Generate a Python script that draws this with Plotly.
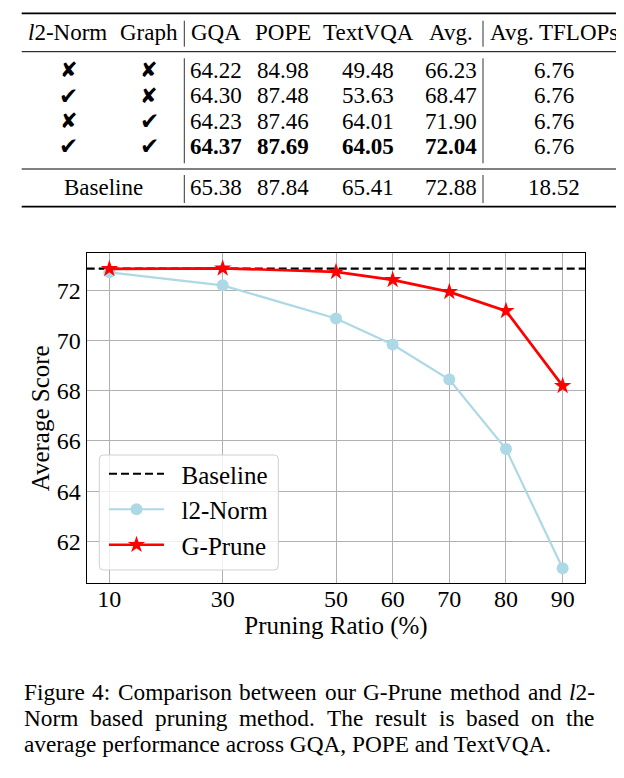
import plotly.graph_objects as go

# page is 624x778 but the browser body has an 8px margin, so the figure is
# drawn 8px smaller and everything is laid out in page pixels
PAGE_W, PAGE_H = 624, 778
OFF = 8
FW, FH = PAGE_W - OFF, PAGE_H - OFF
SERIF = "Liberation Serif"
SYMB = "DejaVu Sans"

# ---- table data ----
header = ["<i>l</i>2-Norm", "Graph", "GQA", "POPE", "TextVQA", "Avg.", "Avg. TFLOPs"]
use_l2 = [False, True, False, True]
use_graph = [False, False, True, True]
gqa = [64.22, 64.30, 64.23, 64.37]
pope = [84.98, 87.48, 87.46, 87.69]
textvqa = [49.48, 53.63, 64.01, 64.05]
avg = [66.23, 68.47, 71.90, 72.04]
tflops = [6.76, 6.76, 6.76, 6.76]
best_row = 3
baseline_vals = [65.38, 87.84, 65.41, 72.88, 18.52]

# ---- chart data ----
ratio = [10, 30, 50, 60, 70, 80, 90]
l2_norm = [72.73, 72.21, 70.89, 69.85, 68.45, 65.68, 60.92]
g_prune = [72.87, 72.89, 72.75, 72.43, 71.95, 71.19, 68.20]
baseline_score = 72.88

caption_l1 = ["Figure", "4:", "Comparison", "between", "our", "G-Prune", "method", "and", "<i>l</i>2-"]
caption_l2 = ["Norm", "based", "pruning", "method.", "The", "result", "is", "based", "on", "the"]
caption_l3 = "average performance across GQA, POPE and TextVQA."

# Times advance widths (em), used to justify the caption lines
TIMES = {' ': .25, '.': .25, ':': .278, '-': .333, ',': .25, '2': .5, '4': .5,
         'A': .722, 'C': .667, 'E': .611, 'F': .556, 'G': .722, 'N': .722, 'O': .722,
         'P': .556, 'Q': .722, 'T': .611, 'V': .722, 'a': .444, 'b': .5, 'c': .444,
         'd': .5, 'e': .444, 'f': .333, 'g': .5, 'h': .5, 'i': .278, 'l': .278,
         'm': .778, 'n': .5, 'o': .5, 'p': .5, 'r': .333, 's': .389, 't': .278,
         'u': .5, 'w': .722, 'v': .5, 'x': .5}


def px(x):
    return (x - OFF) / FW


def py(y):
    return 1 - (y - OFF) / FH


def pad_range(vals, frac=0.05):
    lo, hi = min(vals), max(vals)
    d = (hi - lo) * frac
    return [lo - d, hi + d]


def word_width(w, size):
    plain = w.replace("<i>", "").replace("</i>", "")
    return sum(TIMES.get(ch, .5) for ch in plain) * size


annotations = []
shapes = []


def text(x, y, s, size=23, anchor="center", family=SERIF):
    annotations.append(dict(
        x=px(x), y=py(y), xref="paper", yref="paper", text=s, showarrow=False,
        xanchor=anchor, yanchor="middle", font=dict(family=family, size=size, color="black")))


def hline(y, x0, x1, w):
    shapes.append(dict(type="line", xref="paper", yref="paper", x0=px(x0), x1=px(x1),
                       y0=py(y), y1=py(y), line=dict(color="black", width=w)))


def vline(x, y0, y1, w=1):
    shapes.append(dict(type="line", xref="paper", yref="paper", x0=px(x), x1=px(x),
                       y0=py(y0), y1=py(y1), line=dict(color="#333333", width=w)))


# table layout
col_x = [67.5, 149, 216.3, 282.5, 368, 450.7, 554.3]
row_y = [70.2, 95.7, 121.2, 146.5]
header_y = 32.2
base_y = 187.2

for s, x in zip(header, col_x):
    text(x, header_y, s)

cols = [gqa, pope, textvqa, avg, tflops]
for i, y in enumerate(row_y):
    for flag, x in [(use_l2[i], col_x[0] + 1), (use_graph[i], col_x[1])]:
        if flag:
            text(x, y, "✔", size=23, family=SYMB)
        else:
            text(x, y, "✘", size=21, family=SYMB)
    for j, c in enumerate(cols):
        s = "%.2f" % c[i]
        if i == best_row and j < 4:
            s = "<b>" + s + "</b>"
        text(col_x[2 + j], y, s)

text(103, base_y, "Baseline")
for j, v in enumerate(baseline_vals):
    text(col_x[2 + j], base_y, "%.2f" % v)

hline(13.3, 21.7, 620.5, 1.8)
hline(51.7, 21.7, 620.5, 1.0)
hline(169, 21.7, 620.5, 1.0)
hline(206.7, 21.7, 620.5, 1.8)
for vx in [184.3, 483]:
    vline(vx, 20.7, 46.7)
    vline(vx, 58.3, 163.3)
    vline(vx, 175, 203)

# caption, first two lines justified
CAP = 23.3
cap_left, cap_right = 22.7, 593.7
for words, y in [(caption_l1, 692), (caption_l2, 718)]:
    widths = [word_width(w, CAP) for w in words]
    gap = (cap_right - cap_left - sum(widths)) / (len(words) - 1)
    x = cap_left
    for w_, ww in zip(words, widths):
        text(x - 1, y, w_, size=CAP, anchor="left")
        x += ww + gap
text(cap_left - 1, 744, caption_l3, size=CAP, anchor="left")

# legend frame (rounded, semi-transparent like matplotlib)
lx0, ly0, lx1, ly1, r = 99.3, 455, 278.3, 570, 4
path = ("M{a},{b} L{c},{b} Q{e},{b} {e},{f} L{e},{g} Q{e},{h} {c},{h} "
        "L{a},{h} Q{i},{h} {i},{g} L{i},{f} Q{i},{b} {a},{b} Z").format(
    a=px(lx0 + r), b=py(ly0), c=px(lx1 - r), e=px(lx1), f=py(ly0 + r),
    g=py(ly1 - r), h=py(ly1), i=px(lx0))
shapes.append(dict(type="path", xref="paper", yref="paper", path=path, layer="above",
                   fillcolor="rgba(255,255,255,0.8)", line=dict(color="#d0d0d0", width=1)))

xr = pad_range(ratio)
yr = pad_range(l2_norm + g_prune + [baseline_score])

fig = go.Figure()
fig.add_trace(go.Scatter(
    x=xr, y=[baseline_score, baseline_score], mode="lines", name="\u00a0\u00a0Baseline",
    line=dict(color="black", width=2.2, dash="8px,4px")))
fig.add_trace(go.Scatter(
    x=ratio, y=l2_norm, mode="lines+markers", name="\u00a0\u00a0l2-Norm",
    line=dict(color="lightblue", width=2.2), marker=dict(symbol="circle", size=12, color="lightblue")))
fig.add_trace(go.Scatter(
    x=ratio, y=g_prune, mode="lines+markers", name="\u00a0\u00a0G-Prune",
    line=dict(color="red", width=2.7), marker=dict(symbol="star", size=13, color="red")))

axis_common = dict(
    showgrid=True, gridcolor="#b0b0b0", gridwidth=1, zeroline=False,
    showline=True, linecolor="black", linewidth=1.2, mirror=True, ticks="",
    tickfont=dict(family=SERIF, size=24, color="black"))

fig.update_layout(
    width=FW, height=FH, autosize=False,
    margin=dict(l=0, r=0, t=0, b=0),
    paper_bgcolor="white", plot_bgcolor="white",
    xaxis=dict(domain=[px(86.7), px(585.3)], range=xr, tickvals=ratio, ticklabelstandoff=-6,
               title=dict(text="Pruning Ratio (%)", font=dict(family=SERIF, size=25, color="black"), standoff=2),
               **axis_common),
    yaxis=dict(domain=[py(583.3), py(253.3)], range=yr, tick0=62, dtick=2,
               title=dict(text="Average Score", font=dict(family=SERIF, size=25, color="black"), standoff=0),
               **axis_common),
    legend=dict(x=px(104), y=py(451), xanchor="left", yanchor="top",
                bgcolor="rgba(0,0,0,0)", borderwidth=0, itemwidth=55,
                font=dict(family=SERIF, size=25, color="black")),
    showlegend=True,
    annotations=annotations, shapes=shapes)

fig.write_html("out.html")
